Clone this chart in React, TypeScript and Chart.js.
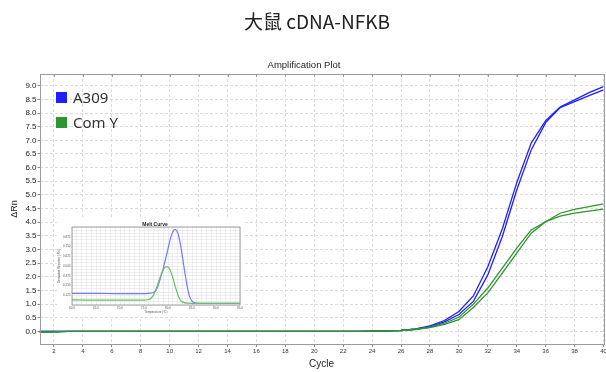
import React, { useEffect, useRef } from "react";
import { Chart, registerables } from "chart.js";

Chart.register(...registerables);

// ---------- Amplification plot data ----------
const cycles = [1, 2, 3, 4, 5, 6, 7, 8, 9, 10, 11, 12, 13, 14, 15, 16, 17, 18, 19, 20, 21, 22, 23, 24, 25, 26, 27, 28, 29, 30, 31, 32, 33, 34, 35, 36, 37, 38, 39, 40];
const a309RepA = [0, 0, 0, 0, 0, 0, 0, 0, 0, 0, 0, 0, 0, 0, 0, 0, 0, 0, 0, 0, 0, 0, 0.005, 0.01, 0.02, 0.04, 0.09, 0.2, 0.4, 0.73, 1.3, 2.37, 3.75, 5.45, 6.9, 7.72, 8.22, 8.48, 8.75, 8.97];
const a309RepB = [0, 0, 0, 0, 0, 0, 0, 0, 0, 0, 0, 0, 0, 0, 0, 0, 0, 0, 0, 0, 0, 0, 0.005, 0.01, 0.02, 0.035, 0.08, 0.17, 0.35, 0.62, 1.1, 2.07, 3.47, 5.18, 6.65, 7.65, 8.2, 8.42, 8.64, 8.85];
const comYRepA = [-0.03, -0.02, 0, 0, 0, 0, 0, 0, 0, 0, 0, 0, 0, 0, 0, 0, 0, 0, 0, 0, 0, 0, 0.005, 0.01, 0.02, 0.035, 0.08, 0.16, 0.3, 0.52, 1.0, 1.59, 2.32, 3.05, 3.72, 4.02, 4.33, 4.47, 4.57, 4.67];
const comYRepB = [-0.03, -0.02, 0, 0, 0, 0, 0, 0, 0, 0, 0, 0, 0, 0, 0, 0, 0, 0, 0, 0, 0, 0, 0.005, 0.01, 0.02, 0.03, 0.07, 0.14, 0.26, 0.43, 0.88, 1.41, 2.14, 2.87, 3.6, 4.02, 4.22, 4.33, 4.41, 4.48];
const xTickValues = [2, 4, 6, 8, 10, 12, 14, 16, 18, 20, 22, 24, 26, 28, 30, 32, 34, 36, 38, 40];
const yTickValues = [0, 0.5, 1, 1.5, 2, 2.5, 3, 3.5, 4, 4.5, 5, 5.5, 6, 6.5, 7, 7.5, 8, 8.5, 9];
const legendLabels = ["A309", "Com Y"];

// ---------- Melt curve (inset) data ----------
const meltTempsBlue = [60, 65, 70, 75, 76, 77, 77.5, 78, 78.5, 79, 79.5, 80, 80.5, 81, 81.5, 82, 82.5, 83, 83.5, 84, 84.5, 85, 85.5, 86, 90, 95];
const meltBlue = [0.15, 0.15, 0.145, 0.145, 0.15, 0.16, 0.19, 0.26, 0.36, 0.47, 0.59, 0.72, 0.85, 0.94, 0.97, 0.93, 0.81, 0.62, 0.42, 0.24, 0.11, 0.05, 0.03, 0.025, 0.02, 0.02];
const meltTempsGreen = [60, 70, 75, 76, 76.5, 77, 77.5, 78, 78.5, 79, 79.5, 80, 80.5, 81, 81.5, 82, 82.5, 83, 84, 90, 95];
const meltGreen = [0.065, 0.062, 0.062, 0.07, 0.09, 0.13, 0.2, 0.29, 0.38, 0.45, 0.49, 0.49, 0.44, 0.35, 0.24, 0.14, 0.07, 0.04, 0.025, 0.02, 0.02];
const meltXLabelValues = [60, 65, 70, 75, 80, 85, 90, 95];
const meltYLabelValues = [0.125, 0.25, 0.375, 0.5, 0.625, 0.75, 0.875];

const BLUE = "#1f1fff";
const GREEN = "#2e962e";
const SANS = "'Liberation Sans', Arial, sans-serif";

const pts = (xs: number[], ys: number[]) => xs.map((x, i) => ({ x, y: ys[i] }));

const mainFrame = {
  id: "mainFrame",
  afterDraw(chart: any) {
    const { ctx, chartArea: a } = chart;
    ctx.save();
    ctx.strokeStyle = "#9a9a9a";
    ctx.lineWidth = 1;
    ctx.strokeRect(Math.round(a.left) + 0.5, Math.round(a.top) + 0.5, Math.round(a.right - a.left), Math.round(a.bottom - a.top));
    const xs = chart.scales.x;
    ctx.beginPath();
    xTickValues.forEach((v) => {
      const px = Math.round(xs.getPixelForValue(v)) + 0.5;
      ctx.moveTo(px, a.top);
      ctx.lineTo(px, a.top + 3);
    });
    ctx.stroke();
    ctx.restore();
  },
};

const insetFrame = {
  id: "insetFrame",
  afterDraw(chart: any) {
    const { ctx, chartArea: a } = chart;
    ctx.save();
    ctx.strokeStyle = "#8a8a8a";
    ctx.lineWidth = 0.8;
    ctx.strokeRect(a.left, a.top, a.right - a.left, a.bottom - a.top);
    ctx.restore();
  },
};

export default function App() {
  const mainRef = useRef<HTMLCanvasElement | null>(null);
  const insetRef = useRef<HTMLCanvasElement | null>(null);

  useEffect(() => {
    if (!mainRef.current || !insetRef.current) return;
    const main = new Chart(mainRef.current, {
      type: "line",
      data: {
        datasets: [
          { data: pts(cycles, comYRepA), borderColor: GREEN, borderWidth: 1.3 },
          { data: pts(cycles, comYRepB), borderColor: GREEN, borderWidth: 1.3 },
          { data: pts(cycles, a309RepA), borderColor: BLUE, borderWidth: 1.3 },
          { data: pts(cycles, a309RepB), borderColor: BLUE, borderWidth: 1.3 },
        ],
      },
      options: {
        animation: false,
        responsive: false,
        devicePixelRatio: 1,
        layout: { padding: { top: 74, right: 16.5, left: 0, bottom: 0 } },
        plugins: { legend: { display: false }, tooltip: { enabled: false }, title: { display: false } },
        elements: { point: { radius: 0 }, line: { tension: 0, fill: false } },
        scales: {
          x: {
            type: "linear",
            min: 1,
            max: 40,
            afterBuildTicks: (s: any) => {
              s.ticks = xTickValues.map((v) => ({ value: v }));
            },
            afterFit: (s: any) => {
              s.height = 28;
            },
            ticks: {
              font: { size: 6, family: SANS },
              color: "#333",
              padding: 1,
              autoSkip: false,
              maxRotation: 0,
              callback: (v: any) => String(v),
            },
            grid: { color: "#dcdcdc", lineWidth: 1, tickLength: 3, tickColor: "#888" },
            border: { display: false, dash: [3, 2] },
            title: { display: true, text: "Cycle", font: { size: 10, family: SANS }, color: "#222", padding: { top: 0, bottom: 2 } },
          },
          y: {
            type: "linear",
            min: -0.46,
            max: 9.43,
            afterBuildTicks: (s: any) => {
              s.ticks = yTickValues.map((v) => ({ value: v }));
            },
            afterFit: (s: any) => {
              s.width = 39.5;
            },
            ticks: {
              font: { size: 8, family: SANS },
              color: "#222",
              padding: 1,
              autoSkip: false,
              callback: (v: any) => Number(v).toFixed(1),
            },
            grid: { color: "#dcdcdc", lineWidth: 1, tickLength: 2, tickColor: "#888" },
            border: { display: false, dash: [3, 2] },
            title: { display: true, text: "ΔRn", font: { size: 9, family: SANS }, color: "#222", padding: { top: 9.6, bottom: 0 } },
          },
        },
      },
      plugins: [mainFrame],
    } as any);

    const meltGridX: number[] = [];
    for (let t = 60; t <= 95; t += 1) meltGridX.push(t);
    const meltGridY: number[] = [];
    for (let k = 0; k <= 24; k += 1) meltGridY.push(k / 24);

    const inset = new Chart(insetRef.current, {
      type: "line",
      data: {
        datasets: [
          { data: pts(meltTempsGreen, meltGreen), borderColor: "#6cbf6c", borderWidth: 1.2, cubicInterpolationMode: "monotone" },
          { data: pts(meltTempsBlue, meltBlue), borderColor: "#7878ff", borderWidth: 1.2, cubicInterpolationMode: "monotone" },
        ],
      },
      options: {
        animation: false,
        responsive: false,
        devicePixelRatio: 1,
        layout: { padding: { top: 8, right: 5, left: 0, bottom: 0 } },
        plugins: { legend: { display: false }, tooltip: { enabled: false } },
        elements: { point: { radius: 0 } },
        scales: {
          x: {
            type: "linear",
            min: 60,
            max: 95,
            afterBuildTicks: (s: any) => {
              s.ticks = meltGridX.map((v) => ({ value: v }));
            },
            afterFit: (s: any) => {
              s.height = 12;
            },
            ticks: {
              font: { size: 3, family: SANS },
              color: "#555",
              padding: 1,
              autoSkip: false,
              maxRotation: 0,
              callback: (v: any) => (meltXLabelValues.includes(Number(v)) ? Number(v).toFixed(1) : ""),
            },
            grid: { color: "#e3e3e3", lineWidth: 0.6, drawTicks: false },
            border: { display: false },
            title: { display: true, text: "Temperature (°C)", font: { size: 3, family: SANS }, color: "#555", padding: { top: 0, bottom: 3.5 } },
          },
          y: {
            type: "linear",
            min: 0,
            max: 1,
            afterBuildTicks: (s: any) => {
              s.ticks = meltGridY.map((v) => ({ value: v }));
            },
            afterFit: (s: any) => {
              s.width = 15;
            },
            ticks: {
              font: { size: 3, family: SANS },
              color: "#555",
              padding: 1.5,
              autoSkip: false,
              callback: (v: any) => (meltYLabelValues.some((m) => Math.abs(m - Number(v)) < 1e-6) ? Number(v).toFixed(3) : ""),
            },
            grid: { color: "#e3e3e3", lineWidth: 0.6, drawTicks: false },
            border: { display: false },
            title: { display: true, text: "Derivative Reporter (-Rn')", font: { size: 3, family: SANS }, color: "#555", padding: { top: 0.5, bottom: 0 } },
          },
        },
      },
      plugins: [insetFrame],
    } as any);

    return () => {
      main.destroy();
      inset.destroy();
    };
  }, []);

  return (
    <div style={{ position: "fixed", left: 0, top: 0, width: 606, height: 372, overflow: "hidden", background: "#fff" }}>
      <canvas ref={mainRef} width={620} height={372} style={{ position: "absolute", left: 0, top: 0, width: 620, height: 372 }} />
      <div
        style={{
          position: "absolute",
          left: 0,
          top: 8.5,
          width: 634,
          textAlign: "center",
          fontFamily: "'Noto Sans CJK SC', 'Noto Sans', sans-serif",
          fontSize: 19,
          lineHeight: "23px",
          color: "#222",
          whiteSpace: "nowrap",
        }}
      >
        大鼠 cDNA-NFKB
      </div>
      <div
        style={{
          position: "absolute",
          left: 0,
          top: 59,
          width: 608,
          textAlign: "center",
          fontFamily: SANS,
          fontSize: 9.5,
          lineHeight: "12px",
          color: "#222",
          whiteSpace: "nowrap",
        }}
      >
        Amplification Plot
      </div>
      {legendLabels.map((label, i) => (
        <div key={label} style={{ position: "absolute", left: 56, top: 87.5 + i * 25, height: 18, whiteSpace: "nowrap" }}>
          <div style={{ position: "absolute", left: 0, top: 4.5, width: 10.5, height: 10.5, background: i === 0 ? BLUE : GREEN }} />
          <div
            style={{
              position: "absolute",
              left: 17,
              top: 0,
              fontFamily: "'Noto Sans', sans-serif",
              fontSize: 15,
              lineHeight: "18px",
              color: "#333",
            }}
          >
            {label}
          </div>
        </div>
      ))}
      <div style={{ position: "absolute", left: 57, top: 219, width: 188, height: 98, background: "#fff" }}>
        <canvas ref={insetRef} width={188} height={98} style={{ position: "absolute", left: 0, top: 0, width: 188, height: 98 }} />
        <div
          style={{
            position: "absolute",
            left: 0,
            top: 2,
            width: 196,
            textAlign: "center",
            fontFamily: SANS,
            fontWeight: "bold",
            fontSize: 5,
            lineHeight: "6px",
            color: "#222",
            whiteSpace: "nowrap",
          }}
        >
          Melt Curve
        </div>
      </div>
    </div>
  );
}
